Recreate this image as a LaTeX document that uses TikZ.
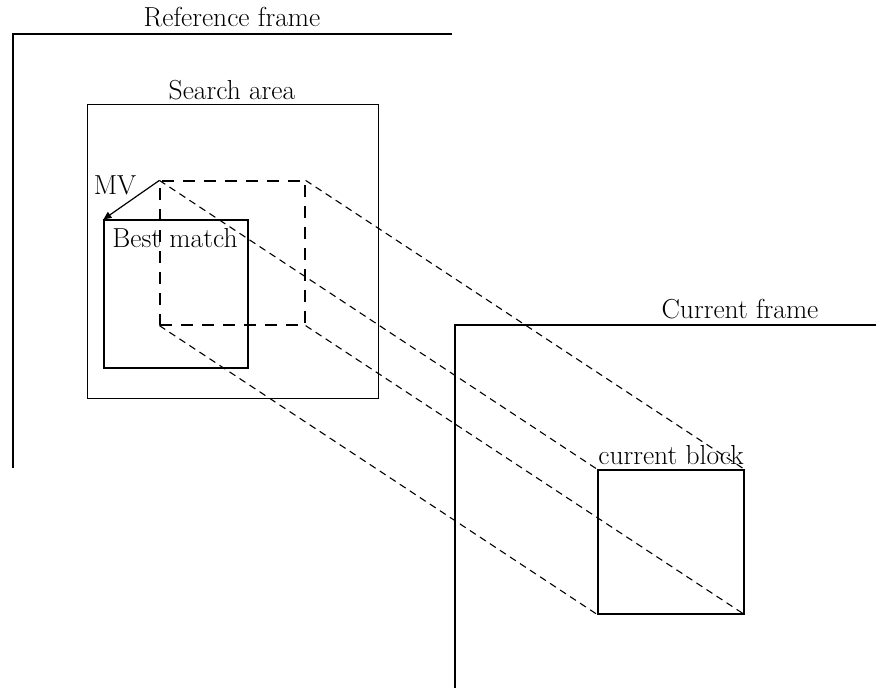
\documentclass[tikz,border=0pt]{standalone}
\usetikzlibrary{arrows.meta}
\begin{document}
\begin{tikzpicture}[x=1pt,y=-1pt,
  frameline/.style={line width=1.4pt},
  boxline/.style={line width=1.2pt},
  searchline/.style={line width=0.8pt},
  bigdash/.style={line width=1.2pt,dash pattern=on 12pt off 9pt},
  projdash/.style={line width=1.1pt,dash pattern=on 7pt off 5pt},
  lbl/.style={font=\fontsize{27.5}{30}\selectfont, inner sep=0pt}]
\useasboundingbox (0,0) rectangle (880,689);
% reference frame
\coordinate (rfA) at (452,34);
\coordinate (rfB) at (13,34);
\coordinate (rfC) at (13,468);
\draw[frameline] (rfA) -- (rfB) -- (rfC);
\node[lbl, anchor=base] (rflbl) at (232,26) {Reference frame};
% search area
\node[draw, searchline, minimum width=291pt, minimum height=294pt, inner sep=0pt] (search) at (232.5,251) {};
\node[lbl, anchor=base] (searchlbl) at (232,99) {Search area};
% dashed candidate box
\node[draw, bigdash, minimum width=145pt, minimum height=144pt, inner sep=0pt] (cand) at (232.5,253) {};
% best match
\node[draw, boxline, minimum width=144pt, minimum height=148pt, inner sep=0pt] (best) at (176,294) {};
\node[lbl, anchor=base] (bestlbl) at (175,247) {Best match};
% motion vector
\draw[boxline, -{Triangle[length=8pt,width=7pt]}] (cand.north west) -- (best.north west);
\node[lbl, anchor=base] (mv) at (115,194) {MV};
% current frame
\coordinate (cfA) at (876,325);
\coordinate (cfB) at (455,325);
\coordinate (cfC) at (455,688);
\draw[frameline] (cfA) -- (cfB) -- (cfC);
\node[lbl, anchor=base] (cflbl) at (740,318) {Current frame};
% current block
\node[draw, boxline, minimum width=146pt, minimum height=144pt, inner sep=0pt] (cur) at (671,542) {};
\node[lbl, anchor=base] (curlbl) at (671,464) {current block};
% projection lines
\draw[projdash] (cand.north west) -- (cur.north west);
\draw[projdash] (cand.north east) -- (cur.north east);
\draw[projdash] (cand.south west) -- (cur.south west);
\draw[projdash] (cand.south east) -- (cur.south east);
\end{tikzpicture}
\end{document}
